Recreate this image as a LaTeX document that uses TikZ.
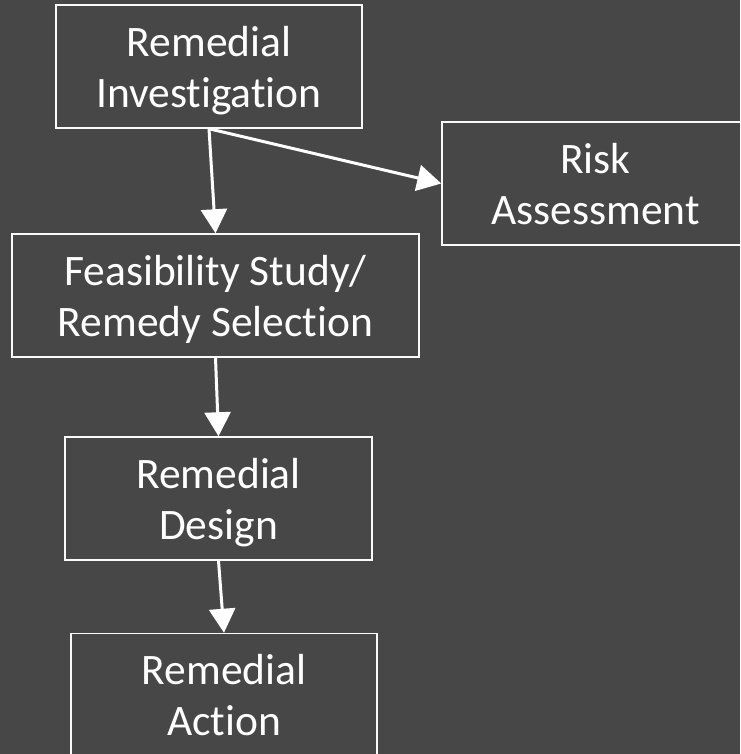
\documentclass[tikz,border=0pt]{standalone}
\usepackage{fontspec}
\setmainfont{Carlito}[Ligatures=CommonOff]
\usepackage{tikz}
\usetikzlibrary{positioning,arrows.meta}
\definecolor{darkbg}{RGB}{71,71,71}
\definecolor{boxline}{RGB}{250,250,250}
\tikzset{
  etape/.style={draw=boxline, line width=1.5pt, text=white, align=center,
    font=\fontsize{43.5pt}{51pt}\selectfont, inner sep=0pt, text depth=0pt,
    minimum height=123pt, minimum width=#1},
  etape/.default=306pt,
  fleche/.style={-{Triangle[length=24pt,width=26pt]}, line width=3pt, draw=white},
}

\begin{document}
\begin{tikzpicture}[x=1pt,y=-1pt]
  % fond
  \useasboundingbox (0,0) rectangle (740,754);
  \fill[darkbg] (0,0) rectangle (740,754);
  \clip (0,0) rectangle (740,754);
  % boîtes
  \node[etape] (invest) at (209,66.5) {Remedial\\Investigation};
  \node[etape=307pt] (risk) at (595.5,183.5) {Risk\\Assessment};
  \node[etape=407pt] (feas) at (215.5,295.5) {Feasibility Study/\\Remedy Selection};
  \node[etape=307pt] (design) at (218.5,498.5) {Remedial\\Design};
  \node[etape] (action) at (224,695) {Remedial\\Action};
  % flèches
  \draw[fleche] (invest.south) -- (feas.north);
  \draw[fleche] (invest.south) -- (risk.west);
  \draw[fleche] (feas.south) -- (design.north);
  \draw[fleche] (design.south) -- (action.north);
\end{tikzpicture}
\end{document}
